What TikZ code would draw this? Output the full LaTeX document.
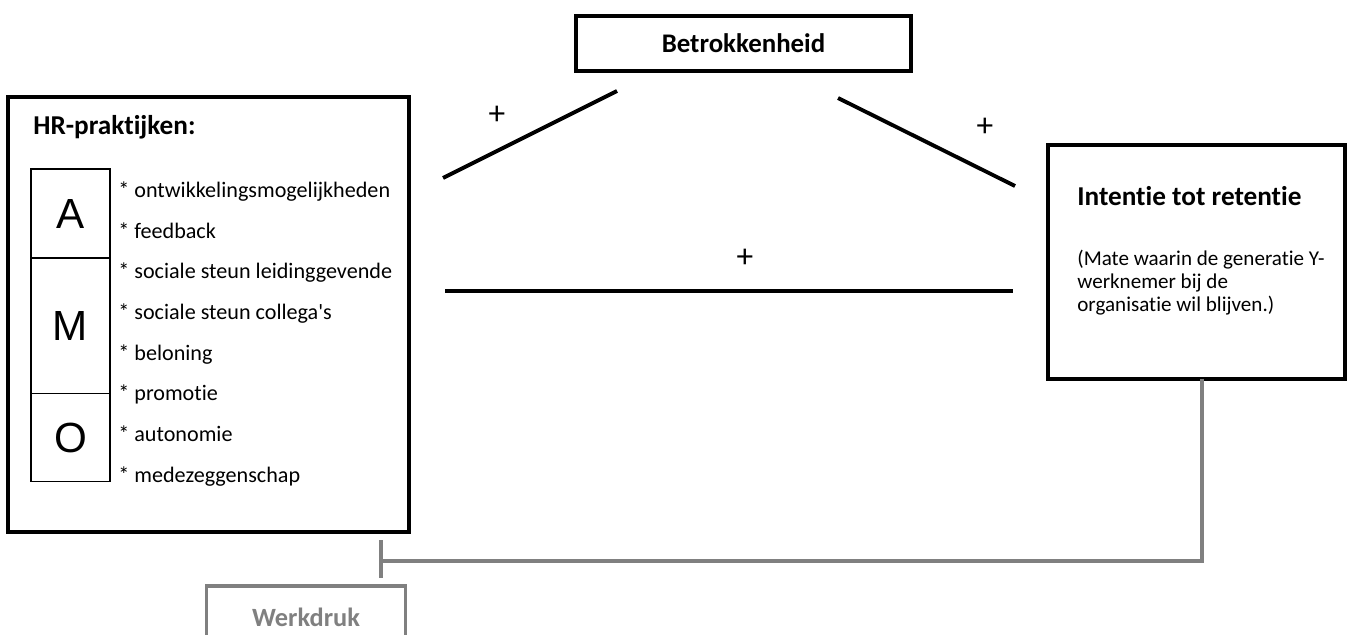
\documentclass[tikz,border=0pt]{standalone}
\usepackage{fontspec}
\setmainfont[Ligatures=NoCommon]{Carlito}
\newfontfamily\amofont{Liberation Sans}
\usetikzlibrary{positioning}
\definecolor{wdgray}{HTML}{808080}

\begin{document}
\begin{tikzpicture}[x=0.02cm,y=-0.02cm,
    font=\fontsize{12.6}{14}\selectfont,
    box/.style={draw,line width=2.2pt,inner sep=0pt,outer sep=0pt},
    title/.style={font=\fontsize{15.5}{17}\selectfont\bfseries,inner sep=0pt,anchor=west},
    amo/.style={draw,line width=0.6pt,minimum width=1.58cm,inner sep=0pt,outer sep=0pt,
      font=\fontsize{24}{26}\amofont},
    item/.style={inner sep=0pt,text height=0.55cm,text depth=0.25cm},
    link/.style={line width=2.2pt},
    plus/.style={font=\fontsize{19}{21}\selectfont,inner sep=0pt},
    grayline/.style={draw=wdgray,line width=1.9pt}
  ]
  \path[use as bounding box,clip] (0,0) rectangle (1352,635);

  % HR-praktijken
  \node[box,minimum width=8.02cm,minimum height=8.7cm] (hr) at (208.5,314.5) {};
  \node[title] (hrtitle) at (33,127) {HR-praktijken:};
  \node[amo,minimum height=1.78cm] (abox) at (70.5,213.5) {A};
  \node[amo,minimum height=2.72cm,below=0pt of abox] (mbox) {M};
  \node[amo,minimum height=1.76cm,below=0pt of mbox] (obox) {O};
  \node[item,anchor=west] (i1) at (118,190) {* ontwikkelingsmogelijkheden};
  \node[item,below=0pt of i1.south west,anchor=north west] (i2) {* feedback};
  \node[item,below=0pt of i2.south west,anchor=north west] (i3) {* sociale steun leidinggevende};
  \node[item,below=0pt of i3.south west,anchor=north west] (i4) {* sociale steun collega\textquotesingle s};
  \node[item,below=0pt of i4.south west,anchor=north west] (i5) {* beloning};
  \node[item,below=0pt of i5.south west,anchor=north west] (i6) {* promotie};
  \node[item,below=0pt of i6.south west,anchor=north west] (i7) {* autonomie};
  \node[item,below=0pt of i7.south west,anchor=north west] (i8) {* medezeggenschap};

  % Betrokkenheid
  \node[box,minimum width=6.7cm,minimum height=1.1cm,
    font=\fontsize{15.3}{17}\selectfont\bfseries] (bet) at (743.5,43.5) {Betrokkenheid};

  % Intentie tot retentie
  \node[box,minimum width=5.94cm,minimum height=4.68cm] (ret) at (1196.5,262) {};
  \node[title] (rettitle) at (1077,196) {Intentie tot retentie};
  \node[inner sep=0pt,anchor=north west,align=left,
    font=\fontsize{12}{13.1}\selectfont] (retnote) at (1077,250)
    {(Mate waarin de generatie Y-\\werknemer bij de\\organisatie wil blijven.)};

  % Werkdruk
  \node[box,draw=wdgray,text=wdgray,minimum width=3.98cm,minimum height=1.24cm,
    font=\fontsize{15}{17}\selectfont\bfseries] (wd) at (306,617) {Werkdruk};

  % lijnen
  \coordinate (hrbet) at (443,178);
  \coordinate (bethr) at (617,91);
  \coordinate (betret) at (838,98);
  \coordinate (retbet) at (1015,186);
  \coordinate (hrret) at (445,291);
  \coordinate (rethr) at (1013,291);
  \draw[link] (hrbet) -- (bethr);
  \draw[link] (betret) -- (retbet);
  \draw[link] (hrret) -- (rethr);
  \node[plus] (p1) at (497,115) {+};
  \node[plus] (p2) at (985,127) {+};
  \node[plus] (p3) at (745,258) {+};

  % werkdruk als moderator
  \coordinate (wdcorner) at (1202,561);
  \coordinate (wdjoin) at (381,561);
  \coordinate (tickup) at (381,540);
  \coordinate (tickdown) at (381,578);
  \draw[grayline] (wdcorner |- ret.south) -- (wdcorner) -- (wdjoin);
  \draw[grayline] (tickup) -- (tickdown);
\end{tikzpicture}
\end{document}
